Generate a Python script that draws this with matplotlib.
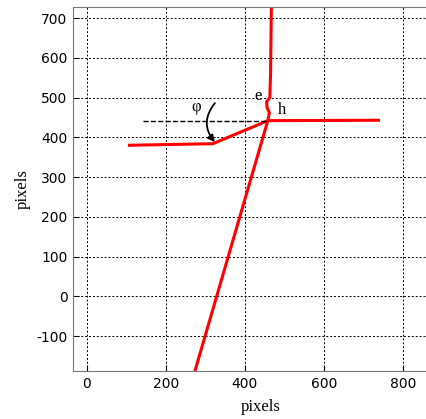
import matplotlib
import matplotlib.pyplot as plt

matplotlib.use("Agg")
plt.rcParams["axes.unicode_minus"] = False

# tracked contours (pixels)
vert_x = [467, 466, 465, 463, 455, 456, 462, 458]
vert_y = [730, 650, 560, 500, 490, 475, 462, 442]
right_x = [458, 742]
right_y = [442, 443]
left_x = [104, 319, 458]
left_y = [380, 384, 442]
diag_x = [458, 273]
diag_y = [442, -190]

xticks = [0, 200, 400, 600, 800]
yticks = [-100, 0, 100, 200, 300, 400, 500, 600, 700]

fig = plt.figure(figsize=(4.27, 4.19), dpi=100)
# the right part of the axes is cut off in the original figure
ax = fig.add_axes([73 / 427, 48 / 419, 375 / 427, 364 / 419])
ax.set_xlim(-35, 914)
ax.set_ylim(-188, 728)

for xs, ys in [(vert_x, vert_y), (right_x, right_y), (left_x, left_y), (diag_x, diag_y)]:
    ax.plot(xs, ys, c="red", lw=2.2, solid_capstyle="butt")

# angle annotation
ax.plot([142, 458], [442, 442], "--", c="black", lw=1.0)
ax.annotate("", xy=(324, 388), xytext=(324, 486),
            arrowprops=dict(arrowstyle="-|>", color="black", lw=1.3,
                            shrinkA=0, shrinkB=0,
                            connectionstyle="arc3,rad=0.4", mutation_scale=10))
serif = "Liberation Serif"
ax.text(278, 476, "φ", family=serif, fontsize=12, ha="center", va="center")
ax.text(433, 504, "e", family=serif, fontsize=12, ha="center", va="center")
ax.text(494, 468, "h", family=serif, fontsize=12, ha="center", va="center")

ax.set_xticks(xticks)
ax.set_yticks(yticks)
ax.tick_params(direction="in", length=4, labelsize=10, color="black", pad=4)
ax.grid(True, ls=(0, (2, 2)), c="black", lw=0.7)
for sp in ax.spines.values():
    sp.set_color("#777777")

ax.set_xlabel("pixels", family=serif, fontsize=12, labelpad=6)
ax.set_ylabel("pixels", family=serif, fontsize=12, labelpad=4)

fig.savefig("out.png", dpi=100)
